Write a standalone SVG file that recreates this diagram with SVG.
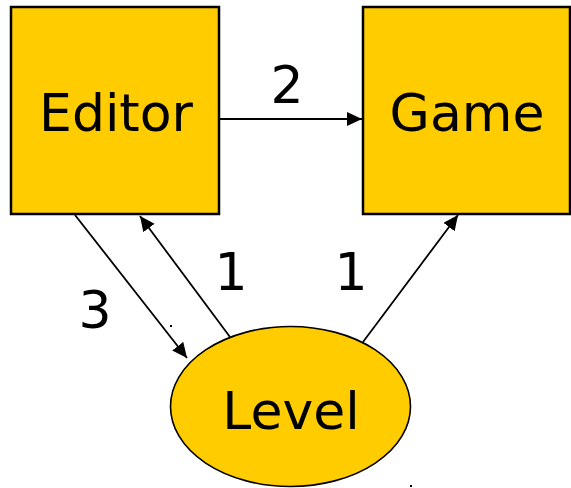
<svg xmlns="http://www.w3.org/2000/svg" width="571" height="488" viewBox="0 0 571 488">
  <defs>
    <marker id="arrow" markerUnits="userSpaceOnUse" markerWidth="16" markerHeight="15" refX="15" refY="7" orient="auto">
      <path d="M0,0 L15,7 L0,14 Z" fill="#000"/>
    </marker>
    <style>
      .box { fill: #ffcc00; stroke: #000; stroke-width: 2.5; }
      .oval { fill: #ffcc00; stroke: #000; stroke-width: 1.6; }
      .lbl { font-family: "DejaVu Sans", Verdana, sans-serif; font-size: 52px; fill: #000; text-anchor: middle; }
      .edge { stroke: #000; stroke-width: 1.8; fill: none; marker-end: url(#arrow); }
    </style>
  </defs>
  <rect width="571" height="488" fill="#fff"/>

  <g id="editor">
    <rect class="box" x="11" y="7" width="208" height="207"/>
    <text class="lbl" x="116" y="131">Editor</text>
  </g>

  <g id="game">
    <rect class="box" x="363" y="7" width="207" height="207"/>
    <text class="lbl" x="467" y="131">Game</text>
  </g>

  <g id="level">
    <ellipse class="oval" cx="290.5" cy="406.5" rx="120" ry="80"/>
    <text class="lbl" x="291" y="429">Level</text>
  </g>

  <g id="connectors">
    <line class="edge" x1="219" y1="119" x2="362" y2="119"/>
    <line class="edge" x1="75" y1="215" x2="187" y2="358"/>
    <line class="edge" x1="230" y1="337" x2="140" y2="216"/>
    <line class="edge" x1="363" y1="342" x2="458" y2="215"/>
    <text class="lbl" x="287" y="103">2</text>
    <text class="lbl" x="95" y="328">3</text>
    <text class="lbl" x="231" y="290">1</text>
    <text class="lbl" x="351" y="290">1</text>
  </g>

  <!-- stray specks -->
  <rect x="170" y="325" width="2" height="2" fill="#000"/>
  <rect x="410" y="485" width="2" height="2" fill="#000"/>
</svg>
